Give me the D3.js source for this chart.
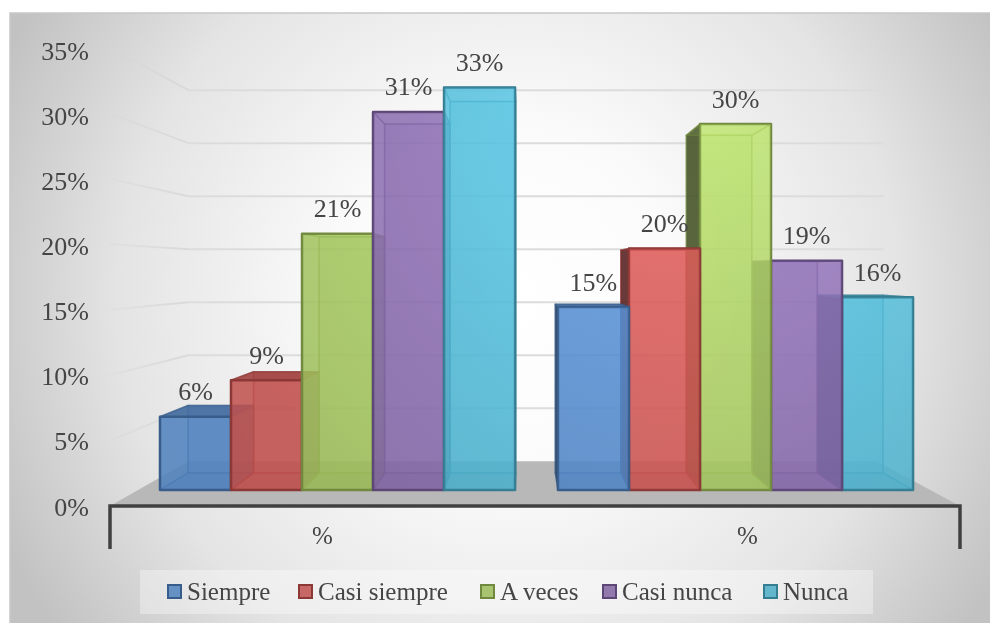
<!DOCTYPE html>
<html>
<head>
<meta charset="utf-8">
<script src="https://cdn.jsdelivr.net/npm/d3@7"></script>
<style>
  body { margin: 0; background: #fff; }
  svg { display: block; }
  text { font-family: "Liberation Serif", serif; fill: #454545; }
</style>
</head>
<body>
<script>
const categories = ['%', '%'];
const seriesNames = ['Siempre', 'Casi siempre', 'A veces', 'Casi nunca', 'Nunca'];
const group1Values = [6, 9, 21, 31, 33];
const group2Values = [15, 19.8, 30, 18.8, 15.8];
const yTicks = [0, 5, 10, 15, 20, 25, 30, 35];

const colors = ['#4f81bd', '#c0504d', '#9bbb59', '#8064a2', '#4bacc6'];
const edges = ['#385d8a', '#8c3836', '#71893f', '#5c4776', '#357d91'];
const legendX = [168, 299, 481, 603, 764];

const width = 990, height = 623;
const vp = { x: 523, y: 270 };   // where the depth lines meet
const depthBarFront = 0.068, depthBarBack = 0.14, depthWall = 0.19;

const y = d3.scaleLinear().domain([0, 35]).range([506, 48]);
const yLabel = d3.scaleLinear().domain([0, 35]).range([507, 51]);
const x0 = d3.scaleBand().domain(d3.range(categories.length)).range([110, 960]);
const xBars = d3.scaleBand().domain(d3.range(categories.length)).range([109.5, 963.5]);
const x1 = d3.scaleBand().domain(d3.range(seriesNames.length)).range([24, 405]);
const pct = d3.format('.0f');

// move a point of the front plane back towards the vanishing point
function project(px, v, t) {
  const py = y(v);
  return [px + (vp.x - px) * t, py + (vp.y - py) * t];
}
const poly = d3.line();

const svg = d3.select('body').append('svg').attr('width', width).attr('height', height);
const defs = svg.append('defs');

const bg = defs.append('radialGradient').attr('id', 'bg')
  .attr('gradientUnits', 'userSpaceOnUse').attr('cx', 510).attr('cy', 300).attr('r', 560);
bg.append('stop').attr('offset', 0).attr('stop-color', '#ffffff');
bg.append('stop').attr('offset', 0.3).attr('stop-color', '#fbfbfb');
bg.append('stop').attr('offset', 0.7).attr('stop-color', '#e4e4e4');
bg.append('stop').attr('offset', 1).attr('stop-color', '#c2c2c2');

const fade = defs.append('linearGradient').attr('id', 'fade')
  .attr('gradientUnits', 'userSpaceOnUse').attr('x1', 110).attr('x2', 190).attr('y1', 0).attr('y2', 0);
fade.append('stop').attr('offset', 0).attr('stop-color', '#d4d4d4').attr('stop-opacity', 0.2);
fade.append('stop').attr('offset', 1).attr('stop-color', '#d9d9d9');

// brightens the bars towards the upper right without washing the colour out
const shine = defs.append('radialGradient').attr('id', 'shine')
  .attr('gradientUnits', 'userSpaceOnUse').attr('cx', 700).attr('cy', 100).attr('r', 520);
shine.append('stop').attr('offset', 0).attr('stop-color', '#2c2c2c');
shine.append('stop').attr('offset', 1).attr('stop-color', '#000');

svg.append('rect').attr('x', 10).attr('y', 13).attr('width', 981).attr('height', 611)
  .attr('fill', 'url(#bg)').attr('stroke', '#c8c8c8').attr('stroke-width', 1.5);

// floor
const xMin = x0.range()[0], xMax = x0.range()[1];
svg.append('path')
  .attr('d', poly([project(xMin, 0, 0), project(xMax, 0, 0), project(xMax, 0, depthWall), project(xMin, 0, depthWall)]) + 'Z')
  .attr('fill', '#b8b8b8');

// grid lines on the back wall and the left side wall
yTicks.filter(d => d > 0).forEach(v => {
  svg.append('path')
    .attr('d', poly([project(xMin, v, 0), project(xMin, v, depthWall)]))
    .attr('fill', 'none').attr('stroke', 'url(#fade)').attr('stroke-width', 2);
  svg.append('path')
    .attr('d', poly([project(xMin, v, depthWall), project(xMax + 8, v, depthWall)]))
    .attr('fill', 'none').attr('stroke', '#dcdcdc').attr('stroke-width', 2);
});

function drawBar(g, cat, s, v) {
  const left = xBars(cat) + x1(s), right = left + x1.bandwidth();
  const fl = project(left, v, depthBarFront), fr = project(right, v, depthBarFront);
  const bl = project(left, v, depthBarBack), br = project(right, v, depthBarBack);
  const fl0 = project(left, 0, depthBarFront), fr0 = project(right, 0, depthBarFront);
  const bl0 = project(left, 0, depthBarBack), br0 = project(right, 0, depthBarBack);
  const base = d3.color(colors[s]);
  const dark = base.darker(2.4);
  const outerIsRight = cat === 0;
  const face = (pts, fill, op, strokeOp) => g.append('path')
    .attr('d', poly(pts) + 'Z')
    .attr('fill', fill).attr('fill-opacity', op)
    .attr('stroke', edges[s]).attr('stroke-opacity', strokeOp).attr('stroke-width', 1.5)
    .attr('stroke-linejoin', 'round');

  face([bl, br, br0, bl0], base, 0.35, 0.5);
  face([bl0, br0, fr0, fl0], base.darker(0.4), 0.4, 0.5);
  face([bl, fl, fl0, bl0], outerIsRight ? base : dark, outerIsRight ? 0.12 : 0.85, 0.5);
  face([br, fr, fr0, br0], outerIsRight ? dark : base, outerIsRight ? 0.45 : 0.12, 0.5);
  // top face: dark when looked at from above, faint when the eye is below it
  const seenFromAbove = bl[1] < fl[1];
  face([bl, br, fr, fl], base.darker(0.5), seenFromAbove ? 0.9 : 0.15, 0.6);
  face([fl, fr, fr0, fl0], base, 0.84, 1).attr('stroke-width', 2.5);
  g.append('path').attr('d', poly([fl, fr, fr0, fl0]) + 'Z')
    .attr('fill', 'url(#shine)').style('mix-blend-mode', 'color-dodge');
}

const bars = svg.append('g');
// outer bars first, so that the ones nearer the centre sit on top of their side faces
[group1Values, group2Values].forEach((values, cat) => {
  const order = cat === 0 ? d3.range(values.length) : d3.range(values.length).reverse();
  order.forEach(s => drawBar(bars, cat, s, values[s]));
});

// data labels
[group1Values, group2Values].forEach((values, cat) => {
  svg.append('g').selectAll('text').data(values).join('text')
    .attr('x', (d, s) => project(xBars(cat) + x1(s) + x1.bandwidth() / 2, d, depthBarFront)[0])
    .attr('y', d => project(0, d, depthBarFront)[1] - 25)
    .attr('dy', '0.33em').attr('text-anchor', 'middle').attr('font-size', 26)
    .text(d => pct(d) + '%');
});

// axes
svg.append('g').selectAll('text').data(yTicks).join('text')
  .attr('x', 89).attr('y', d => yLabel(d)).attr('dy', '0.33em')
  .attr('text-anchor', 'end').attr('font-size', 26).text(d => d + '%');

const axisX = d3.axisBottom(x0).tickSize(0).tickFormat(d => categories[d]);
const axisG = svg.append('g').attr('transform', 'translate(0,' + y(0) + ')').call(axisX);
axisG.select('.domain').remove();
axisG.selectAll('text').attr('y', 38).attr('dy', '0').attr('font-size', 25)
  .style('font-family', '"Liberation Serif", serif').style('fill', '#454545');
svg.append('path')
  .attr('d', 'M' + xMin + ',549V' + y(0) + 'H' + xMax + 'V549')
  .attr('fill', 'none').attr('stroke', '#404040').attr('stroke-width', 3.5);

// legend
svg.append('rect').attr('x', 140).attr('y', 570).attr('width', 733).attr('height', 44)
  .attr('fill', '#fff').attr('fill-opacity', 0.35);
const legend = svg.append('g').selectAll('g').data(seriesNames).join('g')
  .attr('transform', (d, i) => 'translate(' + legendX[i] + ',585)');
legend.append('rect').attr('width', 13).attr('height', 13)
  .attr('fill', (d, i) => colors[i]).attr('fill-opacity', 0.85)
  .attr('stroke', (d, i) => edges[i]).attr('stroke-width', 2);
legend.append('text').attr('x', 19).attr('y', 7).attr('dy', '0.33em')
  .attr('font-size', 25).text(d => d);
</script>
</body>
</html>
